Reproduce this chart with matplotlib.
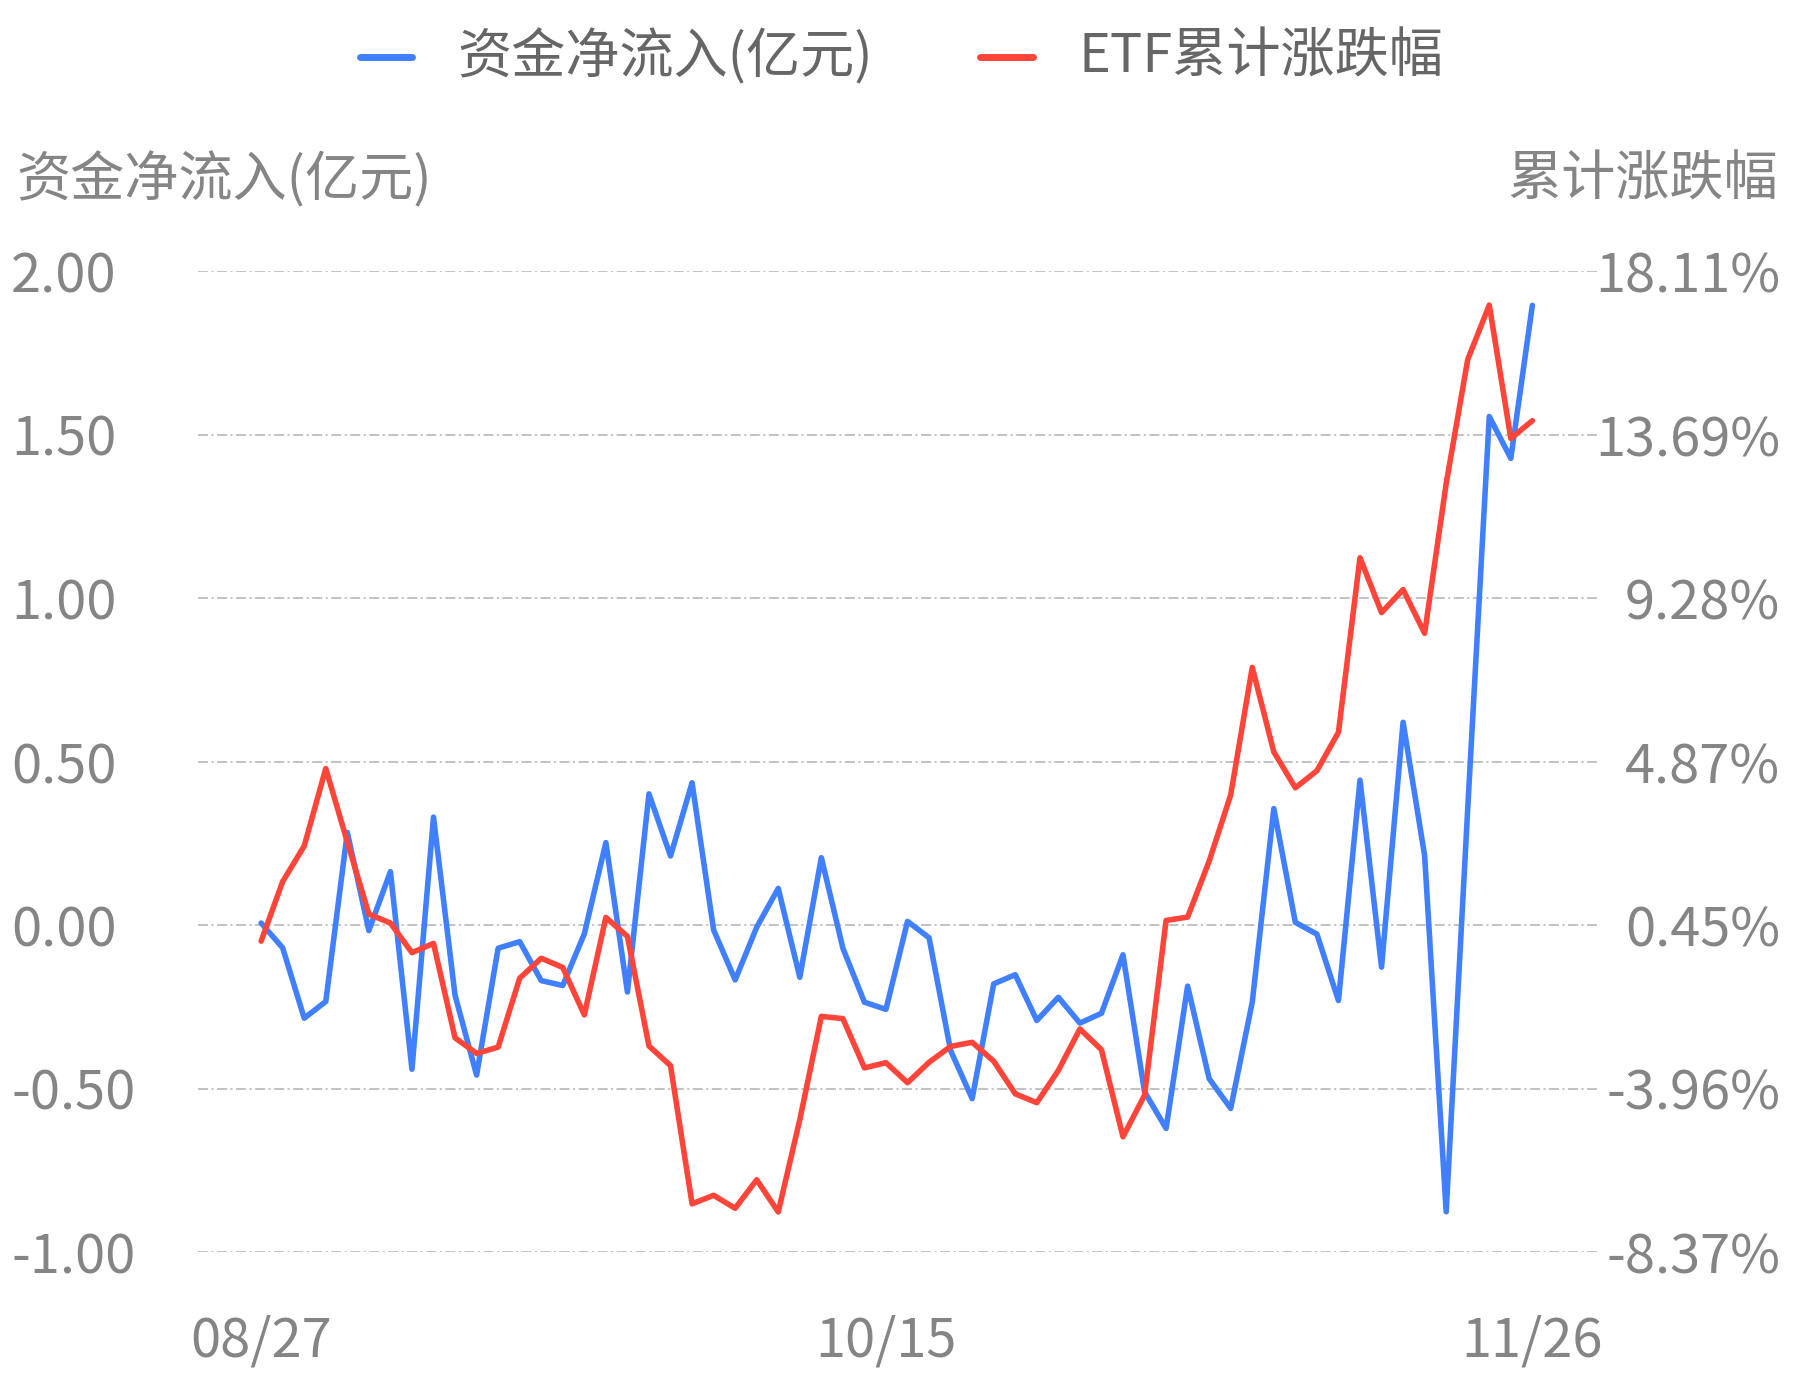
import matplotlib
matplotlib.use("Agg")
import matplotlib.pyplot as plt
from matplotlib.lines import Line2D

plt.rcParams['font.family'] = ['Noto Sans CJK SC', 'DejaVu Sans']
plt.rcParams['lines.scale_dashes'] = False

# ---------------- data ----------------
dates = ["08/27", "08/28", "08/29", "09/01", "09/02", "09/03", "09/04", "09/05",
         "09/08", "09/09", "09/10", "09/11", "09/12", "09/15", "09/16", "09/17",
         "09/18", "09/19", "09/22", "09/23", "09/24", "09/25", "09/26", "09/29",
         "09/30", "10/09", "10/10", "10/13", "10/14", "10/15", "10/16", "10/17",
         "10/20", "10/21", "10/22", "10/23", "10/24", "10/27", "10/28", "10/29",
         "10/30", "10/31", "11/03", "11/04", "11/05", "11/06", "11/07", "11/10",
         "11/11", "11/12", "11/13", "11/14", "11/17", "11/18", "11/19", "11/20",
         "11/21", "11/24", "11/25", "11/26"]

net_inflow = [0.006, -0.070, -0.285, -0.234, 0.283, -0.017, 0.163, -0.441, 0.330, -0.215,
              -0.459, -0.071, -0.051, -0.170, -0.185, -0.027, 0.252, -0.205, 0.401, 0.211,
              0.435, -0.015, -0.168, -0.007, 0.112, -0.160, 0.206, -0.071, -0.236, -0.258,
              0.011, -0.039, -0.384, -0.531, -0.180, -0.152, -0.292, -0.221, -0.300, -0.270,
              -0.091, -0.510, -0.622, -0.187, -0.470, -0.561, -0.236, 0.356, 0.008, -0.028,
              -0.231, 0.443, -0.129, 0.620, 0.212, -0.877, 0.356, 1.555, 1.427, 1.895]

etf_change = [0.02, 1.63, 2.59, 4.68, 2.70, 0.75, 0.51, -0.29, -0.04, -2.59,
              -3.01, -2.84, -0.98, -0.44, -0.69, -1.97, 0.66, 0.15, -2.81, -3.34,
              -7.07, -6.84, -7.19, -6.42, -7.29, -4.80, -2.01, -2.07, -3.40, -3.26,
              -3.80, -3.25, -2.82, -2.71, -3.22, -4.10, -4.34, -3.47, -2.35, -2.91,
              -5.26, -4.14, 0.58, 0.67, 2.18, 3.97, 7.41, 5.13, 4.16, 4.62,
              5.66, 10.37, 8.89, 9.51, 8.33, 12.37, 15.72, 17.19, 13.59, 14.07]

left_ticks = [-1.00, -0.50, 0.00, 0.50, 1.00, 1.50, 2.00]
right_tick_labels = ["-8.37%", "-3.96%", "0.45%", "4.87%", "9.28%", "13.69%", "18.11%"]
shown_x_labels = ["08/27", "10/15", "11/26"]

series_names = ["资金净流入(亿元)", "ETF累计涨跌幅"]
left_title = "资金净流入(亿元)"
right_title = "累计涨跌幅"

# ---------------- style ----------------
W, H = 1793, 1380
DPI = 100
BLUE = "#4080ff"
RED = "#ff4539"
AXIS_TEXT = "#858585"
LEGEND_TEXT = "#666666"
GRID = "#c2c2c2"
FS = 39

fig = plt.figure(figsize=(W / DPI, H / DPI), dpi=DPI)
left, right = 198 / W, 1597 / W
bottom, top = (H - 1252) / H, (H - 271) / H
ax = fig.add_axes([left, bottom, right - left, top - bottom])
ax2 = ax.twinx()

x = list(range(len(dates)))
ax.plot(x, net_inflow, color=BLUE, lw=4.0, solid_joinstyle='round',
        solid_capstyle='round', zorder=3)
ax2.plot(x, etf_change, color=RED, lw=4.0, solid_joinstyle='round',
         solid_capstyle='round', zorder=3)

ax.set_xlim(-2.93, 62.0)
ax.set_ylim(left_ticks[0], left_ticks[-1])
r_lo = float(right_tick_labels[0].rstrip('%'))
r_hi = float(right_tick_labels[-1].rstrip('%'))
ax2.set_ylim(r_lo, r_hi)

# grid lines (dash-dot)
for v in left_ticks:
    ax.axhline(v, color=GRID, lw=1.4, dashes=(7.2, 2.5, 1.5, 2.5), zorder=1)

for a in (ax, ax2):
    for s in a.spines.values():
        s.set_visible(False)
    a.set_zorder(2)
ax.patch.set_visible(False)
ax2.patch.set_visible(False)

# left ticks
ax.set_yticks(left_ticks)
ax.set_yticklabels([f"{v:.2f}" for v in left_ticks])
ax.tick_params(axis='y', length=0, pad=(198 - 11) * 72 / DPI, labelsize=FS,
               labelcolor=AXIS_TEXT)
for lab in ax.get_yticklabels():
    lab.set_horizontalalignment('left')
    lab.set_verticalalignment('center_baseline')

# right ticks
r_pos = [r_lo + k * (r_hi - r_lo) / (len(right_tick_labels) - 1)
         for k in range(len(right_tick_labels))]
ax2.set_yticks(r_pos)
ax2.set_yticklabels(right_tick_labels)
ax2.tick_params(axis='y', length=0, pad=(1780 - 1597) * 72 / DPI, labelsize=FS,
                labelcolor=AXIS_TEXT)
for lab in ax2.get_yticklabels():
    lab.set_horizontalalignment('right')
    lab.set_verticalalignment('center_baseline')

# x ticks
xt = [dates.index(d) for d in shown_x_labels]
ax.set_xticks(xt)
ax.set_xticklabels(shown_x_labels)
ax.tick_params(axis='x', length=0, pad=44, labelsize=FS, labelcolor=AXIS_TEXT)

# axis titles
fig.text(16 / W, 1 - 180 / H, left_title, ha='left', va='center',
         fontsize=FS, color=AXIS_TEXT)
fig.text(1778 / W, 1 - 180 / H, right_title, ha='right', va='center',
         fontsize=FS, color=AXIS_TEXT)

# legend
ly = 1 - 57 / H
for (x0, x1, tx), col, name in [((360, 412, 457), BLUE, series_names[0]),
                                ((980, 1033, 1078), RED, series_names[1])]:
    fig.add_artist(Line2D([x0 / W, x1 / W], [ly, ly], transform=fig.transFigure,
                          color=col, lw=5, solid_capstyle='round'))
    fig.text(tx / W, ly, name, ha='left', va='center', fontsize=FS,
             color=LEGEND_TEXT)

fig.savefig("out.png", dpi=DPI)
